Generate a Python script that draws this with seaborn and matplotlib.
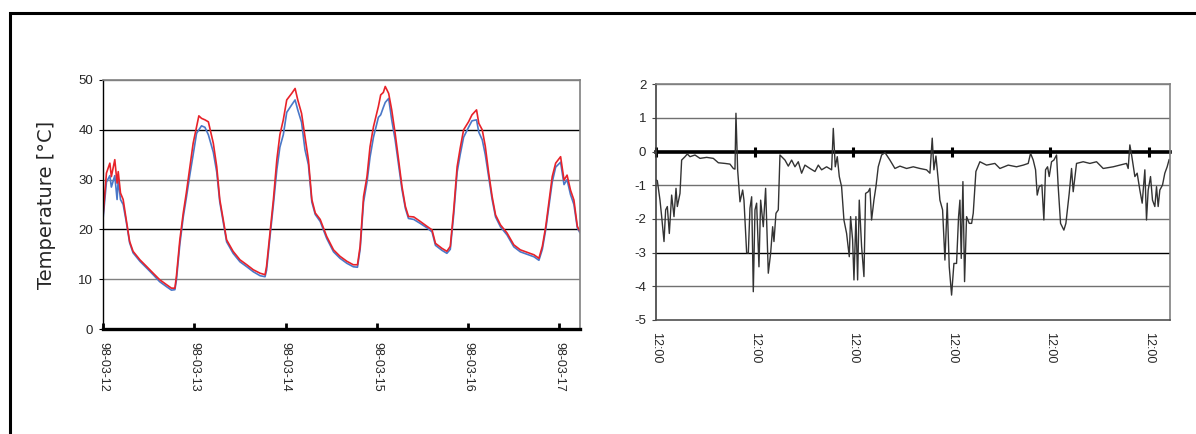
import matplotlib
matplotlib.use("Agg")
import matplotlib.pyplot as plt
from matplotlib.patches import Rectangle
import seaborn as sns
import pandas as pd

# ---------------- data ----------------
day_labels = ["98-03-12", "98-03-13", "98-03-14", "98-03-15", "98-03-16", "98-03-17"]
time_labels = ["12:00"] * 6
day_hours = [0, 24, 48, 72, 96, 120]

t_hours = [0, 0.9, 1.8, 2.2, 3.1, 3.7, 4.0, 4.6, 5.3, 6.1, 7.0, 7.9, 9.7, 11.4, 13.2,
           14.9, 16.7, 18.0, 18.9, 19.3, 20.2, 21.1, 21.9, 22.8, 23.7, 24.6, 25.2, 25.9,
           26.8, 27.7, 29.0, 29.9, 30.7, 31.6, 32.5, 34.2, 36.0, 37.8, 39.5, 41.3, 42.6,
           43.0, 43.9, 44.8, 45.7, 46.5, 47.4, 48.3, 49.6, 50.5, 51.2, 52.2, 53.1, 54.0,
           54.9, 55.8, 57.1, 58.8, 60.6, 62.3, 64.1, 65.8, 66.9, 67.6, 68.5, 69.4, 70.2,
           71.1, 72.4, 73.0, 73.7, 74.2, 75.1, 75.9, 76.8, 77.7, 78.6, 79.5, 80.3, 81.7,
           83.4, 85.2, 86.5, 87.4, 89.1, 90.4, 91.3, 92.2, 93.1, 93.9, 94.8, 96.1, 97.0,
           98.2, 98.8, 99.7, 100.5, 101.4, 102.3, 103.2, 104.5, 106.2, 108.0, 109.7,
           111.5, 113.3, 114.6, 115.5, 116.4, 117.2, 118.1, 119.0, 120.3, 121.2, 122.0,
           122.9, 123.8, 124.7, 125.4]
t_red = [22.6, 31.3, 33.3, 30.6, 34.0, 29.3, 31.6, 27.3, 26.0, 22.0, 17.6, 15.6, 13.9,
         12.6, 11.2, 9.9, 8.9, 8.2, 8.2, 10.6, 17.9, 23.3, 27.3, 32.3, 37.3, 40.6, 42.8,
         42.3, 42.0, 41.6, 37.3, 32.6, 26.0, 22.0, 17.9, 15.6, 13.9, 12.9, 11.9, 11.2,
         10.9, 12.6, 19.3, 26.0, 34.0, 39.0, 42.0, 46.0, 47.3, 48.3, 46.0, 43.3, 38.6,
         34.0, 26.0, 23.3, 22.0, 18.6, 15.9, 14.6, 13.6, 12.9, 12.9, 16.6, 26.6, 30.6,
         36.6, 40.6, 44.7, 47.0, 47.5, 48.7, 47.3, 44.0, 39.3, 34.0, 28.6, 24.6, 22.6,
         22.5, 21.6, 20.6, 19.9, 17.2, 16.2, 15.6, 16.6, 23.9, 32.6, 36.3, 40.0, 41.6,
         43.0, 44.0, 41.3, 40.0, 36.7, 31.3, 26.6, 22.9, 20.9, 19.3, 16.9, 15.9, 15.4,
         14.9, 14.2, 16.6, 20.6, 25.3, 30.6, 33.3, 34.6, 29.9, 30.9, 27.9, 25.9, 20.6,
         19.6]
t_blue = [22.0, 29.5, 30.8, 28.5, 30.8, 26.0, 30.0, 26.0, 25.0, 21.6, 17.3, 15.3, 13.6,
          12.3, 10.9, 9.5, 8.5, 7.8, 7.9, 9.8, 17.0, 22.5, 26.3, 30.8, 35.0, 39.3, 40.0,
          40.8, 40.5, 39.0, 35.5, 31.5, 25.5, 21.5, 17.5, 15.2, 13.5, 12.5, 11.5, 10.7,
          10.5, 11.8, 18.5, 25.0, 32.0, 36.5, 39.0, 43.5, 45.0, 46.0, 44.0, 41.5, 36.0,
          33.0, 25.5, 23.0, 21.6, 18.2, 15.5, 14.2, 13.2, 12.5, 12.4, 16.0, 25.5, 29.5,
          34.5, 38.5, 42.5, 43.0, 44.5, 45.5, 46.3, 42.0, 38.0, 33.0, 28.0, 24.2, 22.2,
          22.0, 21.2, 20.3, 19.5, 16.8, 15.8, 15.2, 16.0, 23.0, 31.5, 35.0, 38.5, 40.5,
          41.8, 42.0, 39.5, 38.0, 35.0, 30.5, 26.0, 22.5, 20.5, 18.9, 16.5, 15.5, 15.0,
          14.5, 13.8, 16.0, 20.0, 24.5, 29.5, 32.5, 33.5, 29.0, 30.0, 27.0, 25.0, 20.3,
          19.3]

d_hours = [0.0, 0.32, 0.97, 1.38, 1.95, 2.35, 2.76, 3.24, 3.81, 4.38, 4.87, 5.19, 5.84,
           6.24, 7.06, 7.62, 8.27, 9.49, 10.71, 12.33, 13.95, 15.17, 16.79, 18.0, 18.82,
           19.22, 19.46, 19.87, 20.44, 21.09, 21.41, 22.06, 22.47, 22.87, 23.28, 23.68,
           24.09, 24.49, 25.06, 25.47, 26.11, 26.68, 27.33, 27.9, 28.39, 28.71, 29.2,
           29.76, 30.17, 30.58, 31.39, 32.2, 33.01, 33.82, 34.63, 35.44, 36.25, 37.47,
           38.69, 39.5, 40.31, 41.52, 42.74, 43.15, 43.63, 44.12, 44.61, 45.17, 45.74,
           46.39, 47.04, 47.36, 47.85, 48.18, 48.66, 49.07, 49.47, 50.04, 50.61, 51.01,
           51.66, 52.07, 52.47, 53.04, 53.53, 54.09, 54.91, 55.72, 56.12, 56.93, 58.15,
           59.37, 60.99, 62.61, 64.23, 65.85, 66.67, 67.23, 67.64, 68.13, 68.69, 69.1,
           69.75, 70.32, 70.88, 71.37, 71.94, 72.51, 73.15, 73.64, 73.97, 74.29, 74.7,
           75.1, 75.59, 76.24, 76.82, 77.21, 77.86, 78.83, 80.45, 82.48, 83.7, 85.73,
           87.75, 89.38, 90.59, 91.16, 91.81, 92.38, 92.78, 93.27, 93.92, 94.4, 94.81,
           95.3, 95.7, 96.27, 96.84, 97.49, 97.89, 98.46, 99.27, 99.76, 100.57, 101.14,
           101.54, 102.35, 103.97, 105.6, 107.22, 108.84, 111.27, 112.9, 114.52, 114.92,
           115.33, 115.82, 116.55, 117.11, 117.76, 118.33, 118.98, 119.38, 119.79,
           120.36, 120.84, 121.41, 121.82, 122.22, 122.63, 123.28, 123.84, 124.41, 124.9]
d_vals = [-0.84, -0.86, -1.44, -1.93, -2.67, -1.73, -1.63, -2.43, -1.29, -1.93, -1.09,
          -1.63, -1.24, -0.25, -0.15, -0.07, -0.15, -0.1, -0.2, -0.17, -0.2, -0.33, -0.35,
          -0.37, -0.5, -0.52, 1.14, -0.54, -1.49, -1.14, -1.44, -3.0, -3.02, -1.68, -1.34,
          -4.16, -1.73, -1.53, -3.42, -1.44, -2.23, -1.09, -3.61, -3.02, -2.23, -2.67,
          -1.83, -1.73, -0.1, -0.15, -0.25, -0.43, -0.25, -0.45, -0.3, -0.64, -0.4, -0.5,
          -0.59, -0.4, -0.54, -0.45, -0.54, 0.69, -0.45, -0.15, -0.74, -1.04, -2.03,
          -2.43, -3.12, -1.93, -2.62, -3.81, -1.93, -3.81, -1.44, -2.82, -3.71, -1.24,
          -1.19, -1.09, -2.03, -1.44, -1.04, -0.45, -0.1, -0.03, -0.1, -0.25, -0.5, -0.43,
          -0.5, -0.45, -0.5, -0.54, -0.64, 0.4, -0.54, -0.13, -0.84, -1.44, -1.73, -3.22,
          -1.53, -3.42, -4.26, -3.32, -3.32, -1.93, -1.44, -3.17, -0.89, -3.86, -1.93,
          -2.13, -2.13, -1.83, -0.59, -0.3, -0.4, -0.35, -0.5, -0.4, -0.45, -0.4, -0.35,
          -0.05, -0.25, -0.54, -1.29, -1.04, -0.99, -2.03, -0.54, -0.45, -0.74, -0.3,
          -0.25, -0.1, -1.04, -2.13, -2.33, -2.13, -1.24, -0.5, -1.19, -0.35, -0.3, -0.35,
          -0.3, -0.5, -0.45, -0.4, -0.35, -0.5, 0.2, -0.15, -0.74, -0.64, -1.14, -1.53,
          -0.54, -2.03, -1.14, -0.74, -1.44, -1.63, -1.04, -1.63, -1.14, -0.99, -0.64,
          -0.45, -0.23]

temp_ticks = [0, 10, 20, 30, 40, 50]
diff_ticks = [-5, -4, -3, -2, -1, 0, 1, 2]

# ---------------- style ----------------
sns.set_style("white")
plt.rcParams["font.family"] = ["Liberation Sans", "DejaVu Sans"]
plt.rcParams["font.size"] = 9
plt.rcParams["axes.unicode_minus"] = False

fig = plt.figure(figsize=(11.96, 4.34), dpi=100)

# outer frame
fig.patches.append(Rectangle((10 / 1196, -0.05), 1.2, 1 - 13 / 434 + 0.05,
                             transform=fig.transFigure, fill=False,
                             lw=2.2, edgecolor="black", zorder=0))

# ---------------- left chart ----------------
axL = fig.add_axes([103 / 1196, 1 - 329 / 434, 477 / 1196, 249 / 434])
df_t = pd.DataFrame({"h": t_hours, "red": t_red, "blue": t_blue})
sns.lineplot(data=df_t, x="h", y="blue", ax=axL, color="#4a78c8", lw=1.2, estimator=None)
sns.lineplot(data=df_t, x="h", y="red", ax=axL, color="#e8232a", lw=1.2, estimator=None)
axL.set_xlim(0, 125.4)
axL.set_ylim(0, 50)
axL.set_yticks(temp_ticks)
axL.set_xticks(day_hours)
axL.set_xticklabels(day_labels, rotation=-90, fontsize=9)
axL.set_xlabel("")
axL.set_ylabel("Temperature [°C]", fontsize=14, family=["DejaVu Sans"], labelpad=16)
axL.tick_params(axis="y", direction="out", length=3, width=0.8, color="black",
                labelsize=9.5, pad=4, left=True)
axL.tick_params(axis="x", direction="in", length=4, width=2, color="black",
                pad=9, bottom=True)
axL.yaxis.grid(True, lw=1.0)
grid_cols = ["none", "#808080", "black", "#808080", "black", "#808080"]
for gl, c in zip(axL.get_ygridlines(), grid_cols):
    gl.set_color(c)
axL.spines["bottom"].set_linewidth(2.4)
axL.spines["bottom"].set_color("black")
axL.spines["left"].set_linewidth(1.0)
axL.spines["left"].set_color("black")
axL.spines["right"].set_color("#808080")
axL.spines["right"].set_linewidth(1.2)
axL.spines["top"].set_color("#808080")
axL.spines["top"].set_linewidth(1.2)

# ---------------- right chart ----------------
axR = fig.add_axes([656 / 1196, 1 - 320 / 434, 514 / 1196, 235.7 / 434])
df_d = pd.DataFrame({"h": d_hours, "v": d_vals})
sns.lineplot(data=df_d, x="h", y="v", ax=axR, color="#333333", lw=1.0, estimator=None)
axR.set_xlim(0, 125.1)
axR.set_ylim(-5, 2)
axR.set_yticks(diff_ticks)
axR.set_xticks(day_hours)
axR.set_xticklabels(time_labels, rotation=-90, fontsize=9)
axR.set_xlabel("")
axR.set_ylabel("")
axR.tick_params(axis="y", direction="out", length=3, width=0.8, color="#444444",
                labelsize=9.5, pad=4, left=True)
axR.tick_params(axis="x", length=0, pad=9, bottom=True)
axR.yaxis.grid(True, lw=1.0)
rgrid_cols = ["none", "#707070", "black", "#707070", "#707070", "none", "#707070", "#808080"]
for gl, c in zip(axR.get_ygridlines(), rgrid_cols):
    gl.set_color(c)
for s, c in [("left", "#404040"), ("bottom", "#505050"), ("right", "#808080"), ("top", "#808080")]:
    axR.spines[s].set_color(c)
    axR.spines[s].set_linewidth(1.2)

# zero line with day ticks
sec = axR.secondary_xaxis(5 / 7)
sec.set_xticks(day_hours, labels=[""] * len(day_hours))
sec.tick_params(direction="inout", length=7, width=2.2, color="black")
for s in ["top", "bottom"]:
    sec.spines[s].set_linewidth(2.6)
    sec.spines[s].set_color("black")

fig.savefig("out.png", dpi=100)
